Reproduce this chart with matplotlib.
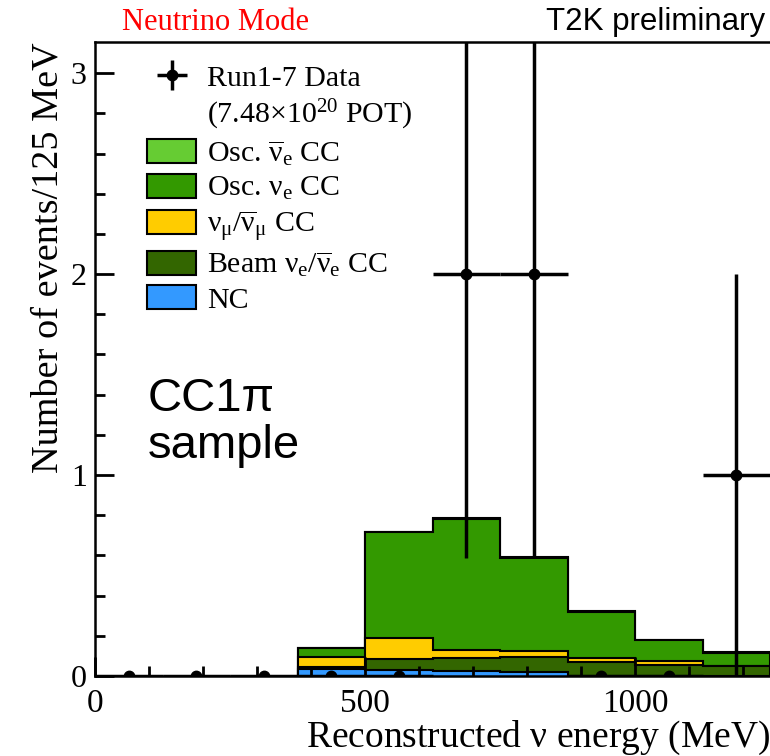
import numpy as np
import matplotlib
matplotlib.use("Agg")
import matplotlib.pyplot as plt
from matplotlib.patches import Patch
from matplotlib.lines import Line2D

plt.rcParams['font.family'] = ['Liberation Serif', 'DejaVu Serif']
plt.rcParams['mathtext.fontset'] = 'custom'
plt.rcParams['mathtext.rm'] = 'Liberation Serif'
plt.rcParams['mathtext.it'] = 'Liberation Serif:italic'
plt.rcParams['mathtext.bf'] = 'Liberation Serif:bold'

# data points (125 MeV bins)
data_x = [62.5, 187.5, 312.5, 437.5, 562.5, 687.5, 812.5, 937.5, 1062.5, 1187.5]
data_y = [0, 0, 0, 0, 0, 2, 2, 0, 0, 1]

# MC stack, bins from 375 to 1250 MeV
edges = [375, 500, 625, 750, 875, 1000, 1125, 1250]
nc = [0.035, 0.030, 0.023, 0.021, 0.0, 0.0, 0.0]
beam_nue = [0.010, 0.053, 0.065, 0.072, 0.068, 0.055, 0.048]
numu = [0.049, 0.106, 0.042, 0.029, 0.024, 0.020, 0.004]
osc_nue = [0.045, 0.527, 0.650, 0.465, 0.228, 0.105, 0.064]
osc_nuebar = [0.002, 0.003, 0.004, 0.003, 0.002, 0.001, 0.001]

components = [nc, beam_nue, numu, osc_nue, osc_nuebar]
colors = ['#3399ff', '#336600', '#ffcc00', '#339900', '#66cc33']
labels = ['NC',
          r'Beam $\mathrm{\nu}_{\mathrm{e}}$/$\overline{\mathrm{\nu}}_{\mathrm{e}}$ CC',
          r'$\mathrm{\nu}_{\mathrm{\mu}}$/$\overline{\mathrm{\nu}}_{\mathrm{\mu}}$ CC',
          r'Osc. $\mathrm{\nu}_{\mathrm{e}}$ CC',
          r'Osc. $\overline{\mathrm{\nu}}_{\mathrm{e}}$ CC']

fig = plt.figure(figsize=(7.7, 7.56), dpi=100)
ax = fig.add_axes([95 / 770, 1 - 676 / 756, 675 / 770, (676 - 42) / 756])

# draw cumulative stack, top layer first so lower layers sit on top
cum = np.cumsum(np.array(components), axis=0)
for i in range(len(components) - 1, -1, -1):
    ax.stairs(cum[i], edges, baseline=0, fill=True, facecolor=colors[i],
              edgecolor='black', linewidth=1.5, zorder=1)

err = ax.errorbar(data_x, data_y, yerr=np.sqrt(data_y), xerr=62.5, fmt='o',
                  color='black', markersize=7.5, elinewidth=2.5, capsize=0,
                  zorder=3, clip_on=True)

ax.set_xlim(0, 1250)
ax.set_ylim(0, 3.155)
ax.set_xticks([0, 500, 1000])
ax.set_xticks(np.arange(0, 1251, 100), minor=True)
ax.set_yticks([0, 1, 2, 3])
ax.set_yticks(np.arange(0, 3.15, 0.2), minor=True)
ax.tick_params(which='both', direction='in', width=2)
ax.tick_params(which='major', length=14)
ax.tick_params(which='minor', length=7)
ax.tick_params(axis='x', pad=9, labelsize=24)
ax.tick_params(axis='y', pad=6, labelsize=23)
ax.spines['right'].set_visible(False)
for s in ['left', 'bottom', 'top']:
    ax.spines[s].set_linewidth(1.8)

ax.set_xlabel(r'Reconstructed $\mathrm{\nu}$ energy (MeV)', fontsize=27, loc='right')
ax.xaxis.label.set_va('center')
ax.xaxis.set_label_coords(1.0, -(738 - 676) / 634)
ax.set_ylabel('Number of events/125 MeV', fontsize=27.5, loc='top', labelpad=4)

# legend
handles = [err, Line2D([], [], linestyle='none')]
leg_labels = ['Run1-7 Data', '(7.48×10$^{20}$ POT)']
for i in range(len(components) - 1, -1, -1):
    handles.append(Patch(facecolor=colors[i], edgecolor='black', linewidth=1.5))
    leg_labels.append(labels[i])
ax.legend(handles, leg_labels, loc='upper left', bbox_to_anchor=(147 / 770, 1 - 64 / 756),
          bbox_transform=fig.transFigure, frameon=False, fontsize=21.5,
          handlelength=1.65, handleheight=0.85, handletextpad=0.35,
          labelspacing=0.2, borderpad=0, borderaxespad=0)

ax.text(98, 1.26, 'CC1π\nsample', fontsize=34, family='Liberation Sans',
        ha='left', va='center', linespacing=1.08)

fig.text(122 / 770, 1 - 22 / 756, 'Neutrino Mode', color='red', fontsize=22,
         ha='left', va='center')
fig.text(765 / 770, 1 - 22 / 756, 'T2K preliminary', color='black', fontsize=22.5,
         family='Liberation Sans', ha='right', va='center')

fig.savefig('out.png', dpi=100)
